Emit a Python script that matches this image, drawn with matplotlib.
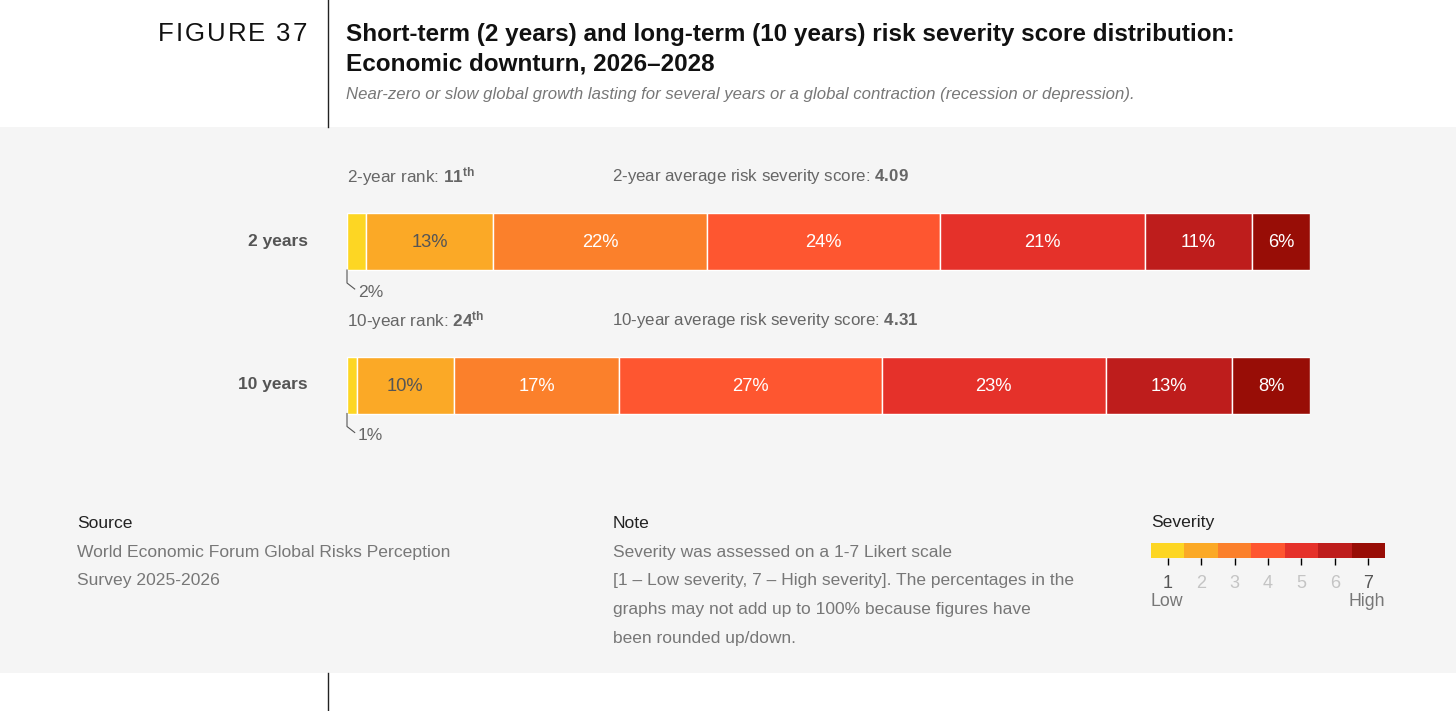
import numpy as np
import matplotlib.pyplot as plt
from matplotlib.patches import Rectangle
from matplotlib.lines import Line2D

plt.rcParams["font.family"] = ["Liberation Sans", "DejaVu Sans"]
plt.rcParams["mathtext.fontset"] = "custom"
plt.rcParams["mathtext.rm"] = "Liberation Sans"
plt.rcParams["mathtext.bf"] = "Liberation Sans:bold"

W, H = 1456, 711

periods = ["2 years", "10 years"]
shares = [
    [2, 13, 22, 24, 21, 11, 6],
    [1, 10, 17, 27, 23, 13, 8],
]
rank_labels = ["2-year rank:", "10-year rank:"]
ranks = ["11", "24"]
score_labels = ["2-year average risk severity score:", "10-year average risk severity score:"]
scores = ["4.09", "4.31"]
severity_levels = [1, 2, 3, 4, 5, 6, 7]
severity_colors = ["#FDD623", "#FBA926", "#FB802B", "#FE5630", "#E5312A", "#BE1D1C", "#980D06"]

source_lines = ["World Economic Forum Global Risks Perception", "Survey 2025-2026"]
note_lines = [
    "Severity was assessed on a 1-7 Likert scale",
    "[1 \u2013 Low severity, 7 \u2013 High severity]. The percentages in the",
    "graphs may not add up to 100% because figures have",
    "been rounded up/down.",
]


def fx(x):
    return x / W


def fy(y):
    return 1 - y / H


fig = plt.figure(figsize=(W / 100, H / 100), dpi=100)
fig.patch.set_facecolor("white")

# grey panel and the vertical rule
fig.patches.append(Rectangle((0, fy(673)), 1, (673 - 127) / H, transform=fig.transFigure,
                             facecolor="#f5f5f5", edgecolor="none", zorder=-5))
fig.lines.append(Line2D([fx(328), fx(328)], [fy(0), fy(127)], transform=fig.transFigure,
                        color="#222", lw=1, zorder=-4))
fig.lines.append(Line2D([fx(328), fx(328)], [fy(673), fy(711)], transform=fig.transFigure,
                        color="#222", lw=1, zorder=-4))

# "FIGURE 37" with letter spacing
renderer = fig.canvas.get_renderer()
xpos = 158
for ch in "FIGURE 37":
    t = fig.text(fx(xpos), fy(34), ch, fontsize=18.5, color="#111", va="center", ha="left")
    w = t.get_window_extent(renderer).width
    xpos += w + 2.0

fig.text(fx(346), fy(34), "Short-term (2 years) and long-term (10 years) risk severity score distribution:",
         fontsize=17.5, fontweight="bold", color="#111", va="center")
fig.text(fx(346), fy(63.5), "Economic downturn, 2026\u20132028",
         fontsize=17.5, fontweight="bold", color="#111", va="center")
fig.text(fx(346), fy(94), "Near-zero or slow global growth lasting for several years or a global contraction (recession or depression).",
         fontsize=12.1, style="italic", color="#777", va="center")

# bars
ax = fig.add_axes([fx(347), fy(450), 963 / W, 280 / H])
ax.set_facecolor("none")
unit = 143.5
ax.set_xlim(0, 100)
ax.set_ylim((450 - 241.5) / unit, (170 - 241.5) / unit)
ax.axis("off")
bar_h = 57 / unit

for i, row in enumerate(shares):
    vals = np.array(row, dtype=float)
    widths = vals / vals.sum() * 100
    lefts = np.concatenate([[0], np.cumsum(widths)[:-1]])
    ax.barh(i, widths, left=lefts, height=bar_h, color=severity_colors,
            edgecolor="white", linewidth=1)
    for j, (l, w, v) in enumerate(zip(lefts, widths, row)):
        if j == 0:
            # small share: label below with leader line
            y_b = i + bar_h / 2
            ax.plot([0, 0, 0.8], [y_b, y_b + 13 / unit, y_b + 19 / unit], color="#555", lw=0.8, clip_on=False)
            ax.text(1.15, i + 0.355, f"{v}%", fontsize=12.6, color="#666", va="center", ha="left")
        else:
            c = "#555" if j == 1 else "white"
            ax.text(l + w / 2, i + 0.01, f"{v}%", fontsize=13.2, color=c, va="center", ha="center")
    yt = ax.get_yaxis_transform()
    ax.text(0, i - 0.452, rank_labels[i] + r" $\mathbf{" + ranks[i] + r"^{th}}$",
            transform=yt, fontsize=12.3, color="#666", va="center", ha="left")
    ax.text((612 - 347) / 963, i - 0.452, score_labels[i] + r" $\mathbf{" + scores[i] + "}$",
            transform=yt, fontsize=12.2, color="#666", va="center", ha="left")
    fig.text(fx(308), fy(241.5 + i * unit), periods[i], fontsize=12.5, fontweight="bold",
             color="#555", va="center", ha="right")

# footer
fig.text(fx(77), fy(523), "Source", fontsize=12.6, color="#222", va="center")
for k, line in enumerate(source_lines):
    fig.text(fx(77), fy(552 + k * 28.7), line, fontsize=12.6, color="#777", va="center")
fig.text(fx(613), fy(523), "Note", fontsize=12.6, color="#222", va="center")
for k, line in enumerate(note_lines):
    fig.text(fx(613), fy(552 + k * 28.7), line, fontsize=12.5, color="#777", va="center")

# severity legend
fig.text(fx(1151), fy(523), "Severity", fontsize=12.6, color="#222", va="center")
lax = fig.add_axes([fx(1151), fy(558), 234 / W, 15 / H])
lax.set_facecolor("none")
lax.bar(severity_levels, 1, width=1, color=severity_colors, edgecolor="none")
lax.set_xlim(0.5, 7.5)
lax.set_ylim(0, 1)
lax.set_yticks([])
for s in lax.spines.values():
    s.set_visible(False)
lax.set_xticks(severity_levels)
lax.set_xticklabels([str(v) for v in severity_levels], fontsize=13)
lax.tick_params(axis="x", length=5, width=1, pad=7)
for k, (tk, lbl) in enumerate(zip(lax.xaxis.get_major_ticks(), lax.get_xticklabels())):
    c = "#555" if k in (0, 6) else "#c4c4c4"
    tk.tick1line.set_color(c)
    lbl.set_color(c)
fig.text(fx(1151), fy(602), "Low", fontsize=12.8, color="#777", va="center", ha="left")
fig.text(fx(1385), fy(602), "High", fontsize=12.8, color="#777", va="center", ha="right")

fig.savefig("out.png", dpi=100)
